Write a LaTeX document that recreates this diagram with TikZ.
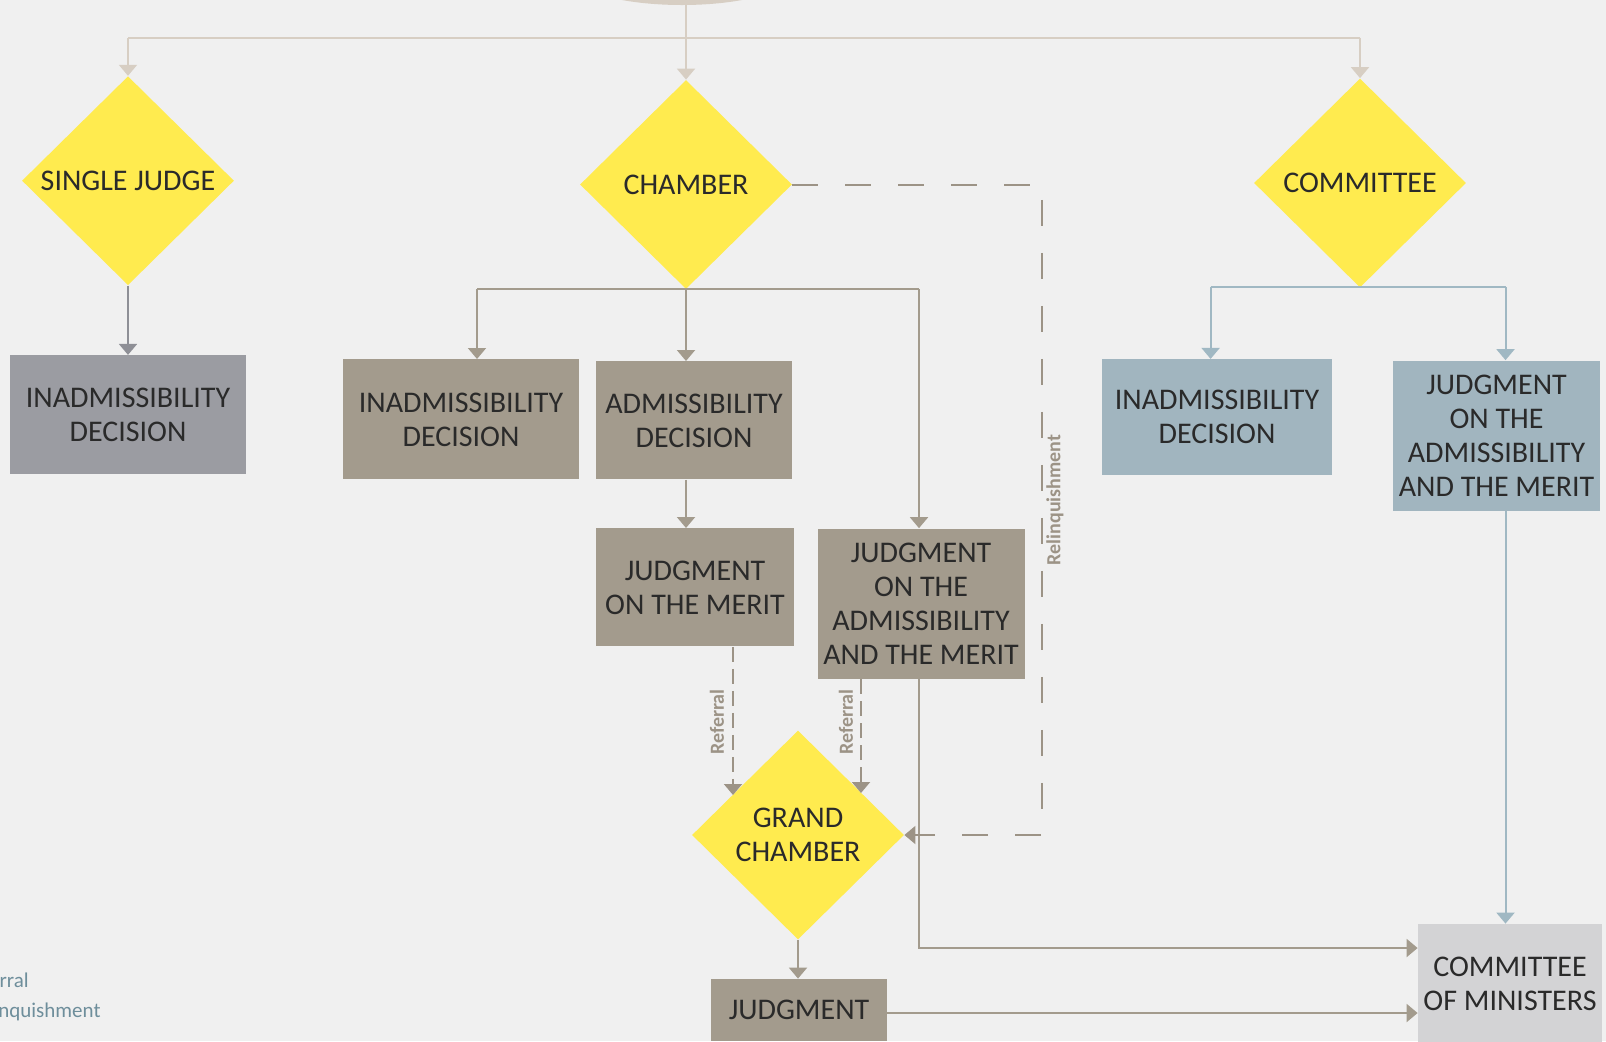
\documentclass[tikz,border=0pt]{standalone}
\usepackage{fontspec}
\setmainfont{Carlito}
\usetikzlibrary{shapes.geometric,arrows.meta}
\definecolor{bg}{HTML}{F0F0F0}
\definecolor{ylw}{HTML}{FFEB4F}
\definecolor{chb}{HTML}{A39B8D}
\definecolor{sjb}{HTML}{9B9CA2}
\definecolor{cob}{HTML}{A1B5BF}
\definecolor{cmb}{HTML}{D3D3D5}
\definecolor{topl}{HTML}{D7CEC3}
\definecolor{col}{HTML}{A0B8C3}
\definecolor{legc}{HTML}{6E8E9B}
\definecolor{txt}{HTML}{2A2A2A}
\definecolor{dsh}{HTML}{9C9386}
\definecolor{sjl}{HTML}{8E8F96}
\begin{document}
\begin{tikzpicture}[x=0.5pt,y=-0.5pt,
  dia/.style={diamond, fill=ylw, inner sep=0pt, minimum width=106pt, minimum height=104.5pt},
  dlbl/.style={text=txt, align=center, inner sep=0pt, font=\fontsize{15}{17}\selectfont},
  box/.style={rectangle, inner sep=0pt, align=center, text=txt, font=\fontsize{15}{17}\selectfont},
  tipT/.style={-{Triangle[width=9pt,length=5.5pt]}},
  lineT/.style={draw=topl, line width=1pt},
  lineC/.style={draw=chb, line width=1pt},
  lineB/.style={draw=col, line width=1pt},
  arrT/.style={lineT, tipT},
  arrC/.style={lineC, tipT},
  arrB/.style={lineB, tipT},
  relline/.style={draw=dsh, line width=1pt, dash pattern=on 13pt off 13.5pt},
  refline/.style={draw=dsh, line width=1pt, dash pattern=on 7.5pt off 3.5pt},
  reflbl/.style={text=dsh, inner sep=0pt, font=\fontsize{10}{12}\selectfont\bfseries},
  leg/.style={text=legc, inner sep=0pt, font=\fontsize{10.5}{12}\selectfont}
]
\fill[bg] (0,0) rectangle (1606,1041);
\clip (0,0) rectangle (1606,1041);

% top ellipse
\node[ellipse, fill=topl, inner sep=0pt, minimum width=108.5pt, minimum height=30pt] (top) at (682,-25) {};

% diamonds
\node[dia] (sj) at (128,180.7) {};
\node[dlbl] (sjt) at (sj.center) {SINGLE JUDGE};
\node[dia] (ch) at (686,184.5) {};
\node[dlbl] (cht) at (ch.center) {CHAMBER};
\node[dia] (co) at (1360,183) {};
\node[dlbl] (cot) at (co.center) {COMMITTEE};
\node[dia] (gc) at (798,835) {};
\node[dlbl] (gct) at (gc.center) {GRAND\\CHAMBER};

% boxes
\node[box, fill=sjb, minimum width=118pt, minimum height=59.5pt] (sjbox) at (128,414.8) {INADMISSIBILITY\\DECISION};
\node[box, fill=chb, minimum width=118pt, minimum height=60pt] (chinad) at (461,419.4) {INADMISSIBILITY\\DECISION};
\node[box, fill=chb, minimum width=98pt, minimum height=59pt] (admdec) at (694,420.4) {ADMISSIBILITY\\DECISION};
\node[box, fill=chb, minimum width=99pt, minimum height=59pt] (merit) at (695,587.4) {JUDGMENT\\ON THE MERIT};
\node[box, fill=chb, minimum width=103.5pt, minimum height=75.25pt] (jam) at (921,603.8) {JUDGMENT\\ON THE\\ADMISSIBILITY\\AND THE MERIT};
\node[box, fill=cob, minimum width=115pt, minimum height=58pt] (cinad) at (1217,417.3) {INADMISSIBILITY\\DECISION};
\node[box, fill=cob, minimum width=103.5pt, minimum height=75.25pt] (cjam) at (1496.5,435.8) {JUDGMENT\\ON THE\\ADMISSIBILITY\\AND THE MERIT};
\node[box, fill=cmb, minimum width=92pt, minimum height=60pt] (cm) at (1510,984) {COMMITTEE\\OF MINISTERS};
\node[box, fill=chb, minimum width=88pt, minimum height=31pt] (judg) at (799,1010) {JUDGMENT};

% top connectors
\coordinate (tl) at (128,37.7);
\coordinate (tr) at (1360,37.7);
\draw[lineT] (tl) -- (tr);
\draw[arrT] (tl) -- (sj.north);
\draw[arrT] (tr) -- (co.north);
\draw[arrT] (top.south -| ch.north) -- (ch.north);

% single judge
\draw[line width=1pt, draw=sjl, tipT] (sj.south) -- (sjbox.north);

% chamber
\coordinate (chl) at (477,288.8);
\coordinate (chr) at (919,288.8);
\draw[lineC] (chl) -- (chr);
\draw[arrC] (chl) -- (chl |- chinad.north);
\draw[arrC] (ch.south) -- (ch.south |- admdec.north);
\draw[arrC] (chr) -- (chr |- jam.north);
\draw[arrC] (admdec.south -| ch.south) -- (merit.north -| ch.south);

% committee
\coordinate (col) at (1210.6,286.8);
\coordinate (cor) at (1505.5,286.8);
\draw[lineB] (col) -- (cor);
\draw[arrB] (col) -- (col |- cinad.north);
\draw[arrB] (cor) -- (cor |- cjam.north);
\draw[arrB] (cjam.south -| cor) -- (cm.north -| cor);

% to committee of ministers
\coordinate (jb) at (919,948);
\coordinate (jc) at (887,1013);
\draw[arrC] (jam.south -| chr) -- (jb) -- (jb -| cm.west);
\draw[arrC] (jc) -- (jc -| cm.west);
\draw[arrC] (gc.south) -- (gc.south |- judg.north);

% referrals
\coordinate (r1) at (733,795);
\coordinate (r2) at (861,793);
\draw[refline, tipT] (merit.south -| r1) -- (r1);
\draw[refline, tipT] (jam.south -| r2) -- (r2);
\node[reflbl, rotate=90] (rl1) at (717,722) {Referral};
\node[reflbl, rotate=90] (rl2) at (846,722) {Referral};

% relinquishment
\coordinate (q1) at (1042,184.5);
\coordinate (q2) at (1042,835);
\draw[relline, tipT] (ch.east) -- (q1) -- (q2) -- (gc.east);
\node[reflbl, rotate=90] (ql) at (1055,500) {Relinquishment};

% legend (cut off at the left edge, as in the reference)
\node[leg, anchor=east] (lg1) at (29,980) {Referral};
\node[leg, anchor=east] (lg2) at (101,1012) {Relinquishment};
\end{tikzpicture}
\end{document}
